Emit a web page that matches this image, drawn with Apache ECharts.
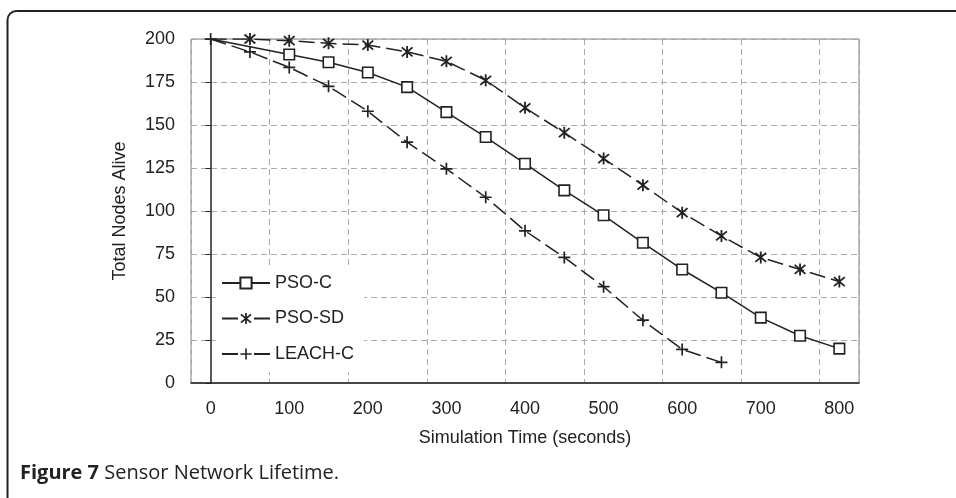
<!DOCTYPE html>
<html><head><meta charset="utf-8">
<script src="https://cdn.jsdelivr.net/npm/echarts@6/dist/echarts.min.js"></script>
<style>html,body{margin:0;padding:0;background:#fff}#c{width:956px;height:498px}</style>
</head><body><div id="c"></div>
<script>
// ---- data ----
const xValues = [0, 50, 100, 150, 200, 250, 300, 350, 400, 450, 500, 550, 600, 650, 700, 750, 800];
const xTickLabels = [0, 100, 200, 300, 400, 500, 600, 700, 800];
const yTickLabels = [0, 25, 50, 75, 100, 125, 150, 175, 200];
const seriesNames = ['PSO-C', 'PSO-SD', 'LEACH-C'];
const psoC = [200, null, 191, 186.5, 180.5, 172, 157.5, 143, 127.5, 112, 97.5, 81.5, 66, 52.5, 38, 27.5, 20];
const psoSD = [200, 200, 199, 197.5, 196.5, 192.5, 187, 176, 160, 145.5, 130.5, 115, 99, 85.5, 73, 66, 59];
const leachC = [200, 192.5, 183.5, 172.5, 158, 140, 124.5, 108, 88.5, 73, 56, 36.5, 19.5, 12];
const xAxisName = 'Simulation Time (seconds)';
const yAxisName = 'Total Nodes Alive';
const captionBold = 'Figure 7';
const captionText = 'Sensor Network Lifetime.';

// ---- symbols ----
function bar(x1, y1, x2, y2, t) {
  const dx = x2 - x1, dy = y2 - y1, L = Math.hypot(dx, dy);
  const nx = -dy / L * t / 2, ny = dx / L * t / 2;
  const f = v => v.toFixed(3);
  return 'M' + f(x1 + nx) + ',' + f(y1 + ny) + 'L' + f(x2 + nx) + ',' + f(y2 + ny) +
         'L' + f(x2 - nx) + ',' + f(y2 - ny) + 'L' + f(x1 - nx) + ',' + f(y1 - ny) + 'Z';
}
const plusPath = 'path://' + bar(6, 0, 6, 12, 1.7) + bar(0, 6, 12, 6, 1.7);
const starPath = 'path://' + bar(6, 0, 6, 12, 1.7) + bar(1, 1.5, 11, 10.5, 1.7) + bar(11, 1.5, 1, 10.5, 1.7);

function pairs(vals, hideFirst) {
  const out = [];
  vals.forEach((v, i) => {
    if (v === null) { out.push([xValues[i], null]); return; }
    if (hideFirst && i === 0) out.push({ value: [xValues[i], v], symbol: 'none' });
    else out.push([xValues[i], v]);
  });
  return out;
}

const ink = '#222';
const font = 'Liberation Sans, Arial, sans-serif';
const fs = 18;
const chart = echarts.init(document.getElementById('c'));
chart.setOption({
  animation: false,
  backgroundColor: '#fff',
  textStyle: { fontFamily: font },
  grid: { left: 191, right: 97, top: 39, bottom: 115, show: true, borderColor: '#808080', borderWidth: 1 },
  xAxis: {
    type: 'value', min: -25, max: 825, interval: 100,
    name: xAxisName, nameLocation: 'middle', nameGap: 46,
    nameTextStyle: { fontSize: fs, color: ink, fontFamily: font },
    axisLine: { show: true, lineStyle: { color: ink, width: 1.5 } },
    axisTick: { show: false },
    axisLabel: { customValues: xTickLabels, fontSize: fs, color: ink, margin: 17, fontFamily: font },
    splitLine: { show: true, lineStyle: { color: '#aaa', type: [6, 4], width: 1 } }
  },
  yAxis: {
    type: 'value', min: yTickLabels[0], max: yTickLabels[yTickLabels.length - 1], interval: 25,
    name: yAxisName, nameLocation: 'middle', nameGap: 62, nameRotate: 90,
    nameTextStyle: { fontSize: fs, color: ink, fontFamily: font },
    axisLine: { show: true, lineStyle: { color: ink, width: 1.5 } },
    axisTick: { show: true, length: 5, lineStyle: { color: ink, width: 1 } },
    axisLabel: { fontSize: fs, color: ink, margin: 16, fontFamily: font },
    splitLine: { show: true, lineStyle: { color: '#aaa', type: [6, 4], width: 1 } }
  },
  legend: {
    orient: 'vertical', left: 216, top: 265,
    backgroundColor: '#fff',
    padding: [8, 10, 8, 5],
    itemWidth: 48, itemHeight: 14, itemGap: 15.5,
    textStyle: { fontSize: fs, color: ink, fontFamily: font, lineHeight: 20 },
    data: [
      { name: seriesNames[0] },
      { name: seriesNames[1], lineStyle: { type: [16, 16] } },
      { name: seriesNames[2], lineStyle: { type: [16, 16] } }
    ]
  },
  series: [
    {
      name: seriesNames[0], type: 'line', data: pairs(psoC, true), connectNulls: true,
      symbol: 'rect', symbolSize: 10.5,
      itemStyle: { color: '#fff', borderColor: ink, borderWidth: 1.6 },
      lineStyle: { color: ink, width: 1.5, type: 'solid' }, z: 3
    },
    {
      name: seriesNames[1], type: 'line', data: pairs(psoSD, true),
      symbol: starPath, symbolSize: 12,
      itemStyle: { color: ink, borderWidth: 0 },
      lineStyle: { color: ink, width: 1.5, type: [16, 6] }, z: 3
    },
    {
      name: seriesNames[2], type: 'line', data: pairs(leachC, false),
      symbol: plusPath, symbolSize: 12,
      itemStyle: { color: ink, borderWidth: 0 },
      lineStyle: { color: ink, width: 1.5, type: [16, 6] }, z: 3
    }
  ],
  graphic: [
    { type: 'rect', silent: true, shape: { x: 7.5, y: 11, width: 1200, height: 800, r: 9 },
      style: { fill: 'none', stroke: ink, lineWidth: 2 } },
    { type: 'text', left: 20, top: 463, silent: true,
      style: { text: '{b|' + captionBold + '} ' + captionText,
        fontFamily: 'Open Sans', fontSize: 20, fill: ink,
        rich: { b: { fontFamily: 'Open Sans', fontWeight: 'bold', fontSize: 20, fill: ink } } } }
  ]
});
</script></body></html>
